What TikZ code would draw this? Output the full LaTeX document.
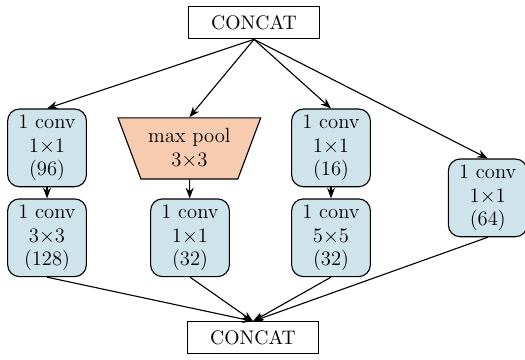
\documentclass[tikz,border=0pt]{standalone}
\usetikzlibrary{shapes.geometric,arrows.meta}
\definecolor{convblue}{RGB}{207,227,234}
\definecolor{poolpeach}{RGB}{246,203,176}
\tikzset{>={Stealth[length=2mm,width=1.5mm]}}
\tikzset{
  concat/.style = {draw, semithick, minimum width=2.46cm, minimum height=0.6cm, inner sep=1pt,
    font=\fontsize{10.5}{12}\selectfont},
  conv/.style = {draw, semithick, fill=convblue, rounded corners=0.22cm,
    minimum width=1.48cm, minimum height=1.46cm, align=center, inner sep=1pt,
    font=\fontsize{11}{12.6}\selectfont},
  pool/.style = {draw, semithick, fill=poolpeach, trapezium, shape border rotate=180,
    trapezium stretches=true, trapezium angle=63.8,
    minimum width=2.69cm, minimum height=1.15cm, align=center, inner sep=0pt,
    font=\fontsize{11}{12.6}\selectfont},
  link/.style = {->, semithick}
}

\begin{document}
\begin{tikzpicture}
  \useasboundingbox (0,0) rectangle (9.87,-6.75);
  \node[concat] (top) at (4.775,-0.43) {CONCAT};
  \node[concat] (bot) at (4.756,-6.35) {CONCAT};
  % branches
  \node[conv] (a1) at (0.884,-2.78) {1 conv\\1$\times$1\\(96)};
  \node[conv] (a2) at (0.884,-4.47) {1 conv\\3$\times$3\\(128)};
  \node[pool] (b1) at (3.56,-2.79) {max pool\\3$\times$3};
  \node[conv] (b2) at (3.572,-4.47) {1 conv\\1$\times$1\\(32)};
  \node[conv] (c1) at (6.223,-2.78) {1 conv\\1$\times$1\\(16)};
  \node[conv] (c2) at (6.223,-4.47) {1 conv\\5$\times$5\\(32)};
  \node[conv] (d1) at (9.17,-3.72) {1 conv\\1$\times$1\\(64)};
  % connectors
  \foreach \n in {a1,b1,c1,d1}
    \draw[link] (top.south) -- (\n.north);
  \draw[link] (a1) -- (a2);
  \draw[link] (b1) -- (b2);
  \draw[link] (c1) -- (c2);
  \foreach \n in {a2,b2,c2,d1}
    \draw[link] (\n.south) -- (bot.north);
\end{tikzpicture}
\end{document}
